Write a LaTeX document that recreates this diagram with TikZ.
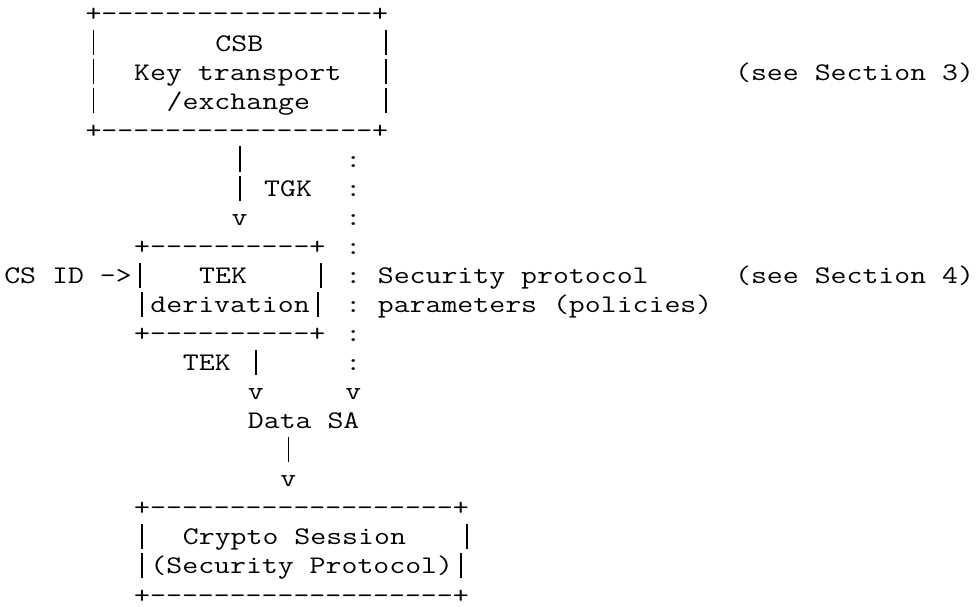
\documentclass[tikz,border=0pt]{standalone}
\usepackage{graphicx}
\ExplSyntaxOn
\cs_new:Npn \myrep #1#2 { \prg_replicate:nn {#1} {#2} }
\ExplSyntaxOff
\newcommand\dsh[1]{\myrep{#1}{-{}}}
% tall Courier-like vertical bar, one monospace cell wide
\newcommand\vb{\makebox[0.525em]{\rule[-0.17em]{0.055em}{0.99em}}}
\tikzset{
  asc/.style={inner sep=0pt, outer sep=0pt, anchor=base west,
    font=\fontsize{19pt}{20pt}\selectfont\ttfamily, text=black}
}
% column c, row r (pixel grid of the reference)
\newcommand\asctxt[4]{\node[asc] (#1) at ({4.3+#2*16.24},{-22-#3*29.05}) {\scalebox{1.221}[1]{#4}};}
\begin{document}
\begin{tikzpicture}[x=0.75pt,y=0.75pt]
\fill[white] (0,0) rectangle (980,-606);
\useasboundingbox (0,0) rectangle (980,-606);
% CSB box
\asctxt{r0}{5}{0}{+\dsh{17}+}
\asctxt{r1a}{5}{1}{\vb}
\asctxt{r1b}{13}{1}{CSB}
\asctxt{r1c}{23}{1}{\vb}
\asctxt{r2a}{5}{2}{\vb}
\asctxt{r2b}{8}{2}{Key transport}
\asctxt{r2c}{23}{2}{\vb}
\asctxt{r2d}{45}{2}{(see Section 3)}
\asctxt{r3a}{5}{3}{\vb}
\asctxt{r3b}{10}{3}{/exchange}
\asctxt{r3c}{23}{3}{\vb}
\asctxt{r4}{5}{4}{+\dsh{17}+}
% TGK arrow and dotted column
\asctxt{r5a}{14}{5}{\vb}
\asctxt{r5b}{21}{5}{:}
\asctxt{r6a}{14}{6}{\vb}
\asctxt{r6b}{16}{6}{TGK}
\asctxt{r6c}{21}{6}{:}
\asctxt{r7a}{14}{7}{v}
\asctxt{r7b}{21}{7}{:}
% TEK derivation box
\asctxt{r8a}{8}{8}{+\dsh{10}+}
\asctxt{r8b}{21}{8}{:}
\asctxt{r9a}{0}{9}{CS ID ->\vb}
\asctxt{r9b}{12}{9}{TEK}
\asctxt{r9c}{19}{9}{\vb}
\asctxt{r9d}{21}{9}{:}
\asctxt{r9e}{23}{9}{Security protocol}
\asctxt{r9f}{45}{9}{(see Section 4)}
\asctxt{r10a}{8}{10}{\vb derivation\vb}
\asctxt{r10b}{21}{10}{:}
\asctxt{r10c}{23}{10}{parameters (policies)}
\asctxt{r11a}{8}{11}{+\dsh{10}+}
\asctxt{r11b}{21}{11}{:}
% to Data SA
\asctxt{r12a}{11}{12}{TEK}
\asctxt{r12b}{15}{12}{\vb}
\asctxt{r12c}{21}{12}{:}
\asctxt{r13a}{15}{13}{v}
\asctxt{r13b}{21}{13}{v}
\asctxt{r14}{15}{14}{Data SA}
\asctxt{r15}{17}{15}{\vb}
\asctxt{r16}{17}{16}{v}
% Crypto Session box
\asctxt{r17}{8}{17}{+\dsh{19}+}
\asctxt{r18a}{8}{18}{\vb}
\asctxt{r18b}{11}{18}{Crypto Session}
\asctxt{r18c}{28}{18}{\vb}
\asctxt{r19}{8}{19}{\vb(Security Protocol)\vb}
\asctxt{r20}{8}{20}{+\dsh{19}+}
\end{tikzpicture}
\end{document}
